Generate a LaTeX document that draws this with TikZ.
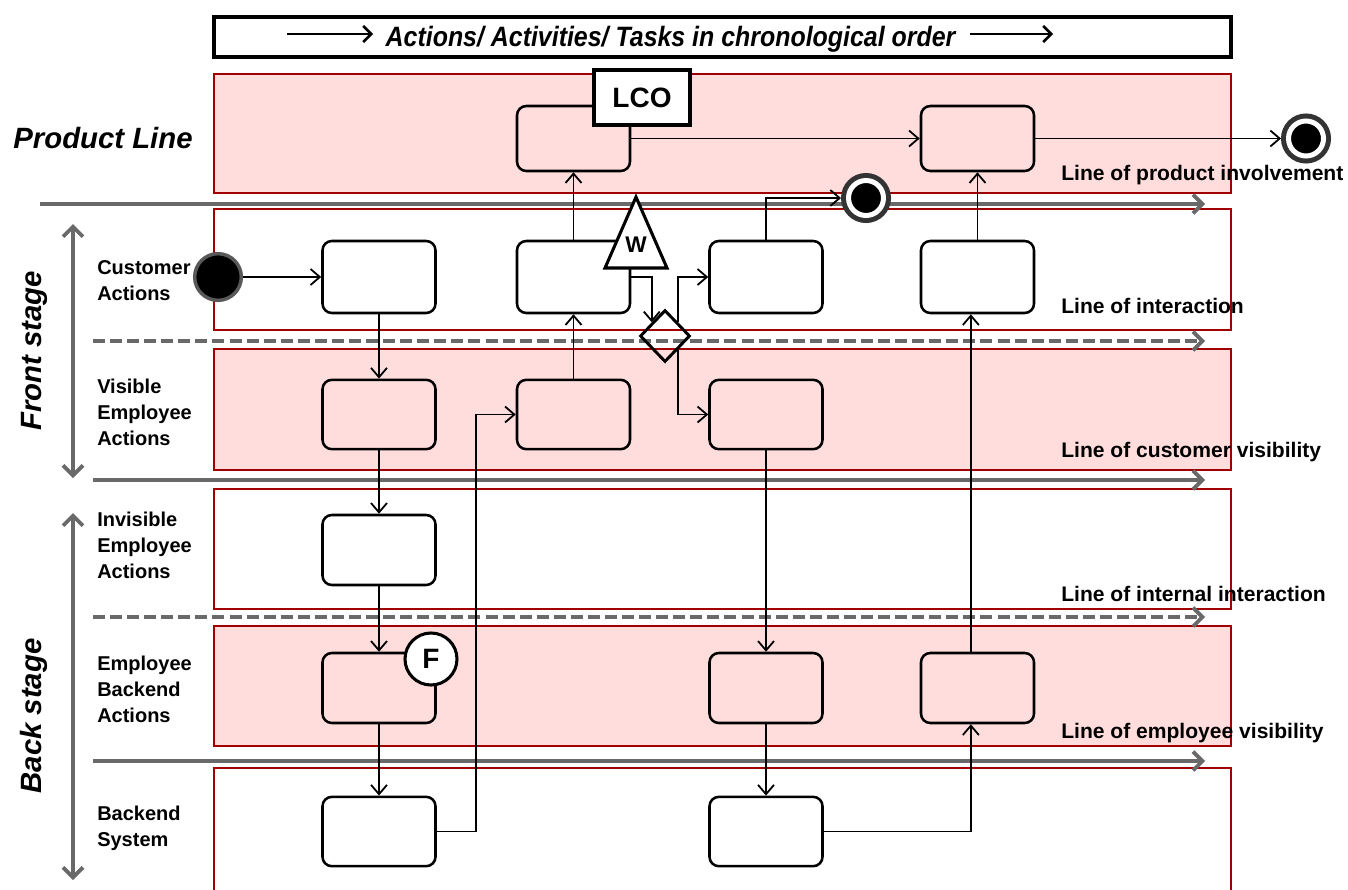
\documentclass[tikz,border=0pt]{standalone}
\usepackage{fontspec}
\setmainfont{Liberation Sans}
\usetikzlibrary{arrows.meta,shapes.geometric,calc}
\definecolor{lanepink}{RGB}{255,221,221}
\definecolor{lanered}{RGB}{160,0,0}
\definecolor{sepgray}{RGB}{105,105,105}
\begin{document}
\begin{tikzpicture}[x=0.75pt,y=-0.75pt,
  lane/.style={draw=lanered, line width=1.5pt},
  pinklane/.style={lane, fill=lanepink},
  whitelane/.style={lane, fill=white},
  sep/.style={draw=sepgray, line width=3.6pt, -{Straight Barb[length=7pt,width=14pt,line width=2.8pt]}},
  sepdash/.style={sep, dash pattern=on 9pt off 3.8pt},
  stagearrow/.style={draw=sepgray, line width=3.4pt,
    {Straight Barb[length=7.5pt,width=15pt,line width=2.8pt]}-{Straight Barb[length=7.5pt,width=15pt,line width=2.8pt]}},
  act/.style={draw, rounded corners=7pt, line width=1.9pt, minimum width=84.75pt, inner sep=0pt},
  pinkact/.style={act, fill=lanepink},
  whiteact/.style={act, fill=white},
  conn/.style={draw, line width=1.35pt, -{Straight Barb[length=7pt,width=12pt,line width=1.35pt]}},
  hdrarrow/.style={draw, line width=1.9pt, -{Straight Barb[length=6pt,width=12pt,line width=1.9pt]}},
  lanelabel/.style={font=\fontsize{15pt}{19.5pt}\selectfont\bfseries, align=left, inner sep=0pt},
  linelabel/.style={font=\fontsize{15.8pt}{18pt}\selectfont\bfseries, inner sep=0pt, anchor=base west},
  biglabel/.style={font=\fontsize{22pt}{26pt}\selectfont\bfseries\itshape, inner sep=0pt},
  endmark/.style={circle, fill=black, draw=white, line width=3.75pt, minimum size=26.25pt,
    inner sep=0pt, outer sep=5.6pt, preaction={draw=black!80, line width=11.25pt}},
]
\useasboundingbox (0,0) rectangle (1348,889);

% header
\node[draw, line width=2.4pt, minimum width=762.75pt, minimum height=30pt, inner sep=0pt] (hdr) at (722.5,37) {};
\node[font=\fontsize{21pt}{24pt}\selectfont\bfseries\itshape, anchor=base, inner sep=0pt] (hdrtxt) at (670.5,46)
  {\scalebox{0.89}[1]{Actions/ Activities/ Tasks in chronological order}};
\coordinate (hl1) at (287,34);
\coordinate (hl2) at (373,34);
\coordinate (hr1) at (970,34);
\coordinate (hr2) at (1053,34);
\draw[hdrarrow] (hl1) -- (hl2);
\draw[hdrarrow] (hr1) -- (hr2);

% swim lanes
\draw[pinklane]  (214,74)  rectangle (1231,193);
\draw[whitelane] (214,209) rectangle (1231,330);
\draw[pinklane]  (214,349) rectangle (1231,470);
\draw[whitelane] (214,489) rectangle (1231,609);
\draw[pinklane]  (214,626) rectangle (1231,746);
\draw[whitelane] (214,768) rectangle (1231,895);

% separating lines
\draw[sep]     (40,204) -- (1205,204);
\draw[sepdash] (93,341) -- (1205,341);
\draw[sep]     (93,480) -- (1205,480);
\draw[sepdash] (93,617) -- (1205,617);
\draw[sep]     (93,761) -- (1205,761);

% stage arrows and titles
\draw[stagearrow] (73,224) -- (73,478);
\draw[stagearrow] (73,513) -- (73,880);
\node[biglabel, rotate=90, anchor=base] (front) at (41,351) {Front stage};
\node[biglabel, rotate=90, anchor=base] (back) at (41,716) {Back stage};
\node[biglabel, anchor=base] (prod) at (103,148) {Product Line};

% lane titles
\node[lanelabel, anchor=west] (lcust) at (97,281) {Customer\\Actions};
\node[lanelabel, anchor=west] (lvis) at (97,412) {Visible\\Employee\\Actions};
\node[lanelabel, anchor=west] (linv) at (97,545) {Invisible\\Employee\\Actions};
\node[lanelabel, anchor=west] (lemp) at (97,689) {Employee\\Backend\\Actions};
\node[lanelabel, anchor=west] (lsys) at (97,828) {Backend\\System};

% names of the lines
\node[linelabel] (n1) at (1061,180) {Line of product involvement};
\node[linelabel] (n2) at (1061,313) {Line of interaction};
\node[linelabel] (n3) at (1061,457) {Line of customer visibility};
\node[linelabel] (n4) at (1061,601) {Line of internal interaction};
\node[linelabel] (n5) at (1061,738) {Line of employee visibility};

% activities
\node[pinkact, minimum height=48.75pt] (P2) at (573.5,138.5) {};
\node[pinkact, minimum height=48.75pt] (P4) at (977.5,138.5) {};
\node[whiteact, minimum height=54pt] (C1) at (379,277) {};
\node[whiteact, minimum height=54pt] (C2) at (573.5,277) {};
\node[whiteact, minimum height=54pt] (C3) at (766,277) {};
\node[whiteact, minimum height=54pt] (C4) at (977.5,277) {};
\node[pinkact, minimum height=52pt] (V1) at (379,414.5) {};
\node[pinkact, minimum height=52pt] (V2) at (573.5,414.5) {};
\node[pinkact, minimum height=52pt] (V3) at (766,414.5) {};
\node[whiteact, minimum height=52.5pt] (I1) at (379,550) {};
\node[pinkact, minimum height=52.5pt] (E1) at (379,688) {};
\node[pinkact, minimum height=52.5pt] (E3) at (766,688) {};
\node[pinkact, minimum height=52.5pt] (E4) at (977.5,688) {};
\node[whiteact, minimum height=52pt] (B1) at (379,831.5) {};
\node[whiteact, minimum height=52pt] (B3) at (766,831.5) {};

% start and end markers, decision
\node[circle, fill=black, draw=black!65, line width=2.6pt, minimum size=35pt, inner sep=0pt] (start) at (218,277) {};
\node[endmark] (endA) at (866,198) {};
\node[endmark] (endB) at (1306,138.5) {};
\node[diamond, draw, line width=2.2pt, minimum width=37.5pt, minimum height=39pt, inner sep=0pt] (D) at (665,336) {};
\coordinate (Dnw) at ($(D.north)!0.5!(D.west)$);
\coordinate (Dne) at ($(D.north)!0.5!(D.east)$);
\coordinate (Dse) at ($(D.south)!0.5!(D.east)$);

% flows
\draw[conn] (start) -- (C1.west);
\draw[conn] (C1.south) -- (V1.north);
\draw[conn] (V1.south) -- (I1.north);
\draw[conn] (I1.south) -- (E1.north);
\draw[conn] (E1.south) -- (B1.north);
\draw[conn] (B1.east) -- ++(39,0) |- (V2.west);
\draw[conn] (V2.north) -- (C2.south);
\draw[conn] (C2.north) -- (P2.south);
\draw[conn] (P2.east) -- (P4.west);
\draw[conn] (P4.east) -- (endB);
\draw[conn] (C2.east) -| (Dnw);
\draw[conn] (Dne) |- (C3.west);
\draw[conn] (Dse) |- (V3.west);
\draw[conn] (C3.north) |- (endA);
\draw[conn] (V3.south) -- (E3.north);
\draw[conn] (E3.south) -- (B3.north);
\draw[conn] (B3.east) -| ([xshift=-5pt]E4.south);
\draw[conn] ([xshift=-5pt]E4.north) -- ([xshift=-5pt]C4.south);
\draw[conn] (C4.north) -- (P4.south);

% waiting marker, LCO and F annotations
\filldraw[fill=white, line width=2.3pt, line join=miter] (636,197) -- (667,268) -- (605,268) -- cycle;
\node[font=\fontsize{17pt}{20pt}\selectfont\bfseries, inner sep=0pt] (W) at (636,245) {W};
\node[draw, fill=white, line width=2.8pt, minimum width=72pt, minimum height=41pt, inner sep=0pt,
  font=\fontsize{21pt}{24pt}\selectfont\bfseries] (LCO) at (642,97.5) {LCO};
\node[circle, draw, fill=white, line width=2.3pt, minimum size=39pt, inner sep=0pt,
  font=\fontsize{21pt}{24pt}\selectfont\bfseries] (F) at (431,659) {F};
\end{tikzpicture}
\end{document}
